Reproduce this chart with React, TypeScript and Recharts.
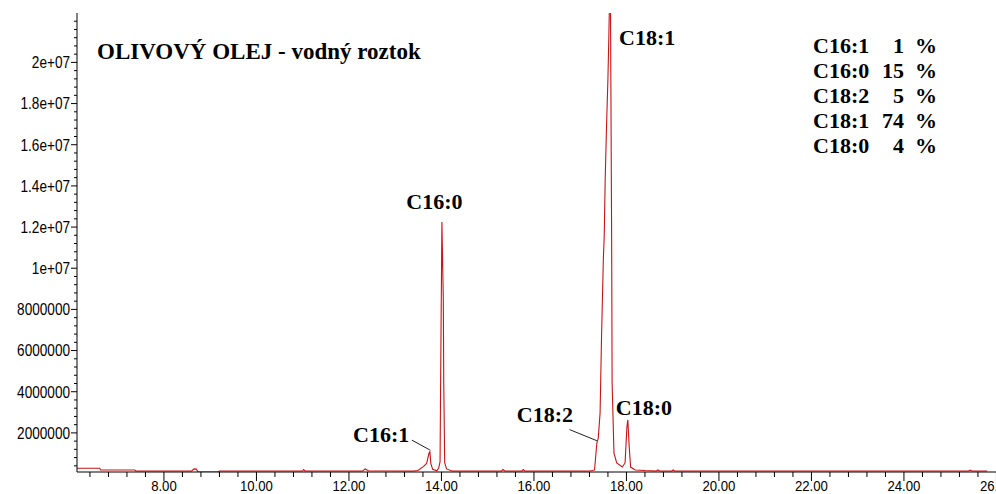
import React from 'react';
import { LineChart, Line, XAxis, YAxis, ReferenceDot, ReferenceLine } from 'recharts';

// Retention time (min) and abundance
const retentionTimes = [
  6.12, 6.61, 6.63, 7.37, 7.39, 8.6, 8.65, 8.7, 8.74, 9.17, 9.2,
  11.0, 11.02, 11.05, 12.3, 12.35, 12.42,
  13.4, 13.49, 13.61, 13.68, 13.73, 13.75, 13.77, 13.81, 13.9,
  13.94, 13.97, 13.98, 14.01, 14.04, 14.05, 14.07, 14.11, 14.23,
  15.3, 15.33, 15.37, 15.74, 15.77, 15.8, 17.2,
  17.26, 17.31, 17.36, 17.39, 17.43, 17.46, 17.5, 17.52, 17.54, 17.57, 17.6, 17.62, 17.65,
  17.68, 17.69, 17.7, 17.73, 17.79, 17.91, 17.97, 18.01, 18.03, 18.06, 18.09, 18.19,
  18.4, 18.65, 18.68, 18.72, 18.98, 19.01, 19.04, 25.4, 25.43, 25.47, 25.8,
];
const abundances = [
  280000, 280000, 200000, 200000, 150000, 150000, 250000, 240000, 100000, 100000, 150000,
  150000, 220000, 150000, 150000, 250000, 160000,
  150000, 170000, 360000, 520000, 1010000, 1090000, 520000, 230000, 160000,
  290000, 600000, 3800000, 12250000, 8500000, 4400000, 550000, 250000, 150000,
  150000, 220000, 150000, 150000, 220000, 150000, 150000,
  170000, 200000, 1510000, 1750000, 2970000, 6510000, 10400000, 11610000, 14290000, 16960000, 19240000, 21330000, 25000000,
  11400000, 4420000, 3600000, 1020000, 540000, 340000, 540000, 2290000, 2630000, 1310000, 340000, 200000,
  170000, 150000, 200000, 150000, 150000, 200000, 150000, 150000, 190000, 150000, 150000,
];

const xMajorTicks = [8, 10, 12, 14, 16, 18, 20, 22, 24, 26];
const yMajorTicks = [2000000, 4000000, 6000000, 8000000, 10000000, 12000000, 14000000, 16000000, 18000000, 20000000];

// Peak annotations (anchor = left/baseline of text, in data units)
const peakNames = ['C16:1', 'C16:0', 'C18:2', 'C18:1', 'C18:0'];
const peakLabelTimes = [12.09, 13.24, 15.63, 17.84, 17.77];
const peakLabelValues = [1560000, 12900000, 2530000, 20850000, 2870000];

// Leader lines
const leaderFrom = [{ x: 13.36, y: 1650000 }, { x: 16.77, y: 2160000 }];
const leaderTo = [{ x: 13.75, y: 1170000 }, { x: 17.36, y: 1620000 }];

const compositionNames = ['C16:1', 'C16:0', 'C18:2', 'C18:1', 'C18:0'];
const compositionPercents = [1, 15, 5, 74, 4];

const titleText = 'OLIVOVÝ OLEJ - vodný roztok';

const xTicks: number[] = [];
for (let k = 0; k < 50; k++) xTicks.push(Math.round((6.4 + 0.4 * k) * 10) / 10);
const yTicks: number[] = [];
for (let k = 1; k <= 55; k++) yTicks.push(k * 400000);

const rows = retentionTimes.map((t, i) => ({ t, v: abundances[i] }));

const tickFont = "'Liberation Sans', Arial, sans-serif";
const serifFont = "'Liberation Serif', 'Times New Roman', serif";

const fmtY = (v: number) => {
  if (v >= 10000000) {
    const m = v / 10000000;
    return `${m}e+07`;
  }
  return String(v);
};

const XTick = (props: any) => {
  const { x, y, payload } = props;
  const v = payload.value as number;
  const major = xMajorTicks.some((m) => Math.abs(m - v) < 1e-6);
  return (
    <g>
      <line x1={x} y1={y} x2={x} y2={y + (major ? 9 : 5)} stroke="#000" strokeWidth={1} />
      {major && (
        <text
          transform={`translate(${x},${y + 18.5}) scale(0.85,1)`}
          textAnchor="middle"
          fontFamily={tickFont}
          fontSize={15.5}
          fill="#000"
        >
          {v.toFixed(2)}
        </text>
      )}
    </g>
  );
};

const YTick = (props: any) => {
  const { x, y, payload } = props;
  const v = payload.value as number;
  const major = yMajorTicks.includes(v);
  return (
    <g>
      <line x1={x} y1={y} x2={x - (major ? 6 : 3)} y2={y} stroke="#000" strokeWidth={1} />
      {major && (
        <text
          transform={`translate(${x - 7},${y}) scale(0.85,1)`}
          dy="0.36em"
          textAnchor="end"
          fontFamily={tickFont}
          fontSize={16}
          fill="#000"
        >
          {fmtY(v)}
        </text>
      )}
    </g>
  );
};

const makeLabelShape = (text: string) => (p: any) => (
  <text x={p.cx} y={p.cy} fontFamily={serifFont} fontWeight="bold" fontSize={22} fill="#000">
    {text}
  </text>
);

export default function App() {
  return (
    <div style={{ position: 'absolute', left: 0, top: 0, width: 996, height: 494, overflow: 'hidden', background: '#fff' }}>
      <LineChart
        width={1002}
        height={494}
        data={rows}
        margin={{ top: 13, right: 5.55, bottom: 0, left: 0 }}
      >
        <XAxis
          dataKey="t"
          type="number"
          domain={[6.12, 26.0]}
          allowDataOverflow
          ticks={xTicks}
          interval={0}
          tick={<XTick />}
          tickLine={false}
          tickSize={0}
          tickMargin={0}
          height={22}
          axisLine={{ stroke: '#000', strokeWidth: 1 }}
        />
        <YAxis
          type="number"
          domain={[100000, 22400000]}
          allowDataOverflow
          ticks={yTicks}
          interval={0}
          tick={<YTick />}
          tickLine={false}
          tickSize={0}
          tickMargin={0}
          width={77}
          axisLine={{ stroke: '#000', strokeWidth: 1 }}
        />
        <Line
          type="linear"
          dataKey="v"
          stroke="#c81414"
          strokeWidth={1.1}
          dot={false}
          isAnimationActive={false}
        />
        {leaderFrom.map((f, i) => (
          <ReferenceLine
            key={`ld${i}`}
            segment={[f, leaderTo[i]]}
            stroke="#222"
            strokeWidth={1}
            ifOverflow="visible"
          />
        ))}
        {peakNames.map((n, i) => (
          <ReferenceDot
            key={`pk${i}`}
            x={peakLabelTimes[i]}
            y={peakLabelValues[i]}
            r={0}
            ifOverflow="visible"
            shape={makeLabelShape(n)}
          />
        ))}
      </LineChart>
      <svg
        width={996}
        height={494}
        style={{ position: 'absolute', left: 0, top: 0, pointerEvents: 'none' }}
      >
        <text x={97} y={59} fontFamily={serifFont} fontWeight="bold" fontSize={23} fill="#000">
          {titleText}
        </text>
        {compositionNames.map((n, i) => (
          <g key={n + i}>
            <text x={813} y={53.4 + i * 25} fontFamily={serifFont} fontWeight="bold" fontSize={22} fill="#000">
              {n}
            </text>
            <text x={904} y={53.4 + i * 25} textAnchor="end" fontFamily={serifFont} fontWeight="bold" fontSize={22} fill="#000">
              {compositionPercents[i]}
            </text>
            <text x={915} y={53.4 + i * 25} fontFamily={serifFont} fontWeight="bold" fontSize={22} fill="#000">
              %
            </text>
          </g>
        ))}
      </svg>
    </div>
  );
}
